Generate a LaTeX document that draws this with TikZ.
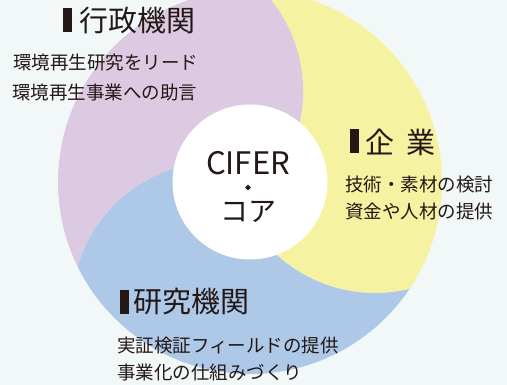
\documentclass[tikz,border=0pt]{standalone}
\usepackage{fontspec}
\newfontfamily\jp{Noto Sans CJK JP}
\newfontfamily\jpbold[FakeBold=9]{Noto Sans CJK JP}
\definecolor{bgc}{RGB}{242,248,248}
\definecolor{purp}{RGB}{220,202,226}
\definecolor{yel}{RGB}{245,242,162}
\definecolor{blu}{RGB}{174,200,232}
\definecolor{ink}{RGB}{35,24,21}
\tikzset{
  titletext/.style={anchor=west, inner sep=0pt, text=ink, font=\jp\fontsize{29}{29}\selectfont},
  bodytext/.style={anchor=west, inner sep=0pt, text=ink, font=\jp\fontsize{18.5}{18.5}\selectfont},
  coretext/.style={anchor=base, inner sep=0pt, text=ink},
  barmark/.style={fill=ink, minimum width=9pt, minimum height=24pt, inner sep=0pt, anchor=north west},
}
\begin{document}
\begin{tikzpicture}[x=1pt,y=1pt]
\useasboundingbox (0,0) rectangle (507,385);
\clip (0,0) rectangle (507,385);
\fill[bgc] (0,0) rectangle (507,385);
\begin{scope}[shift={(250,203)}]
  \clip (0,0) circle[radius=192];
  \foreach \ang/\col in {0/yel,120/purp,240/blu}{
    \fill[\col, rotate=\ang] (0,0) -- ([shift={(125,35)}]228:146)
      arc[start angle=228, end angle=300, radius=146]
      -- (350,-150) -- (350,350) -- (-20,350)
      -- ([shift={(-92.8,90.8)}]60:146)
      arc[start angle=60, end angle=-12, radius=146] -- cycle;
  }
  \node[circle, fill=white, minimum size=155pt, inner sep=0pt] (core) at (0,0) {};
\end{scope}
% center text
\node[coretext, font=\jp\fontsize{31}{31}\selectfont] (cifer) at (248,210) {CIFER};
\node[coretext, font=\jpbold\fontsize{17}{17}\selectfont] (dot) at (248,191) {・};
\node[coretext, font=\jp\fontsize{28}{28}\selectfont] (koa) at (248,163) {コア};
% titles
\node[barmark] (m1) at (63,377) {};
\node[titletext] (t1) at (79,364) {行政機関};
\node[barmark] (m2) at (350,256) {};
\node[titletext] (t2) at (365,243) {企\hspace{12pt}業};
\node[barmark] (m3) at (120,95) {};
\node[titletext] (t3) at (133.5,83) {研究機関};
% bodies
\node[bodytext] (b11) at (13,322) {環境再生研究をリード};
\node[bodytext] (b12) at (12,293) {環境再生事業への助言};
\node[bodytext] (b21) at (345,200) {技術・素材の検討};
\node[bodytext] (b22) at (345,174) {資金や人材の提供};
\node[bodytext] (b31) at (117,39) {実証検証フィールドの提供};
\node[bodytext] (b32) at (117,13) {事業化の仕組みづくり};
\end{tikzpicture}
\end{document}
